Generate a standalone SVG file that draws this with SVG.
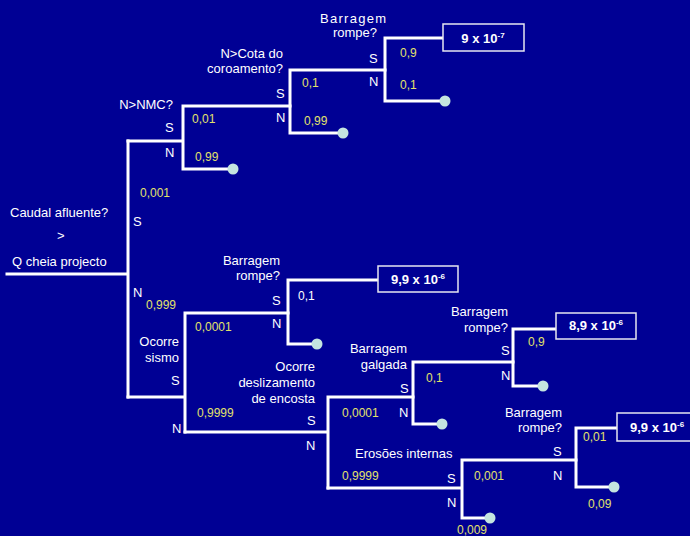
<svg xmlns="http://www.w3.org/2000/svg" width="690" height="536" viewBox="0 0 690 536">
<style>
.ln{stroke:#fff;stroke-width:3;fill:none;stroke-linecap:square}
.t{font-family:"Liberation Sans",Arial,sans-serif;font-size:13px;fill:#fff}
.e{text-anchor:end}
.p{font-family:"Liberation Sans",Arial,sans-serif;font-size:12px;fill:#e2e26a}
.pw{font-family:"Liberation Sans",Arial,sans-serif;font-size:12px;fill:#fff}
.box{fill:#000094;stroke:#e6e6f0;stroke-width:1.5}
.bt{font-family:"Liberation Sans",Arial,sans-serif;font-size:13px;font-weight:bold;fill:#fff}
.sup{font-size:8px}
.end{fill:#c4e4e0}
</style>
<rect width="690" height="536" fill="#000094"/>
<g id="connectors">
<path class="ln" d="M7,274 H128 M128,141 V397"/>
<path class="ln" d="M128,141 H183 M183,106 V169 M183,106 H290 M183,169 H233"/>
<path class="ln" d="M290,70 V133 M290,70 H385 M290,133 H343"/>
<path class="ln" d="M385,38 V101 M385,38 H443 M385,101 H445"/>
<path class="ln" d="M128,397 H185 M185,313 V432 M185,313 H288"/>
<path class="ln" d="M288,280 V344 M288,280 H378 M288,344 H317"/>
<path class="ln" d="M185,432 H328 M328,397 V488 M328,397 H413"/>
<path class="ln" d="M413,362 V424 M413,362 H513 M413,424 H442"/>
<path class="ln" d="M513,329 V386 M513,329 H556 M513,386 H543"/>
<path class="ln" d="M328,488 H462 M462,460 V518 M462,460 H576 M462,518 H490"/>
<path class="ln" d="M576,428 V487 M576,428 H617 M576,487 H614"/>
</g>
<g id="caudal">
<text class="t" x="10" y="217">Caudal afluente?</text>
<text class="t" x="57" y="240">&gt;</text>
<text class="t" x="12" y="266">Q cheia projecto</text>
<text class="t" x="133" y="226">S</text>
<text class="t" x="133" y="297">N</text>
<text class="p" x="140" y="197">0,001</text>
<text class="p" x="146" y="309">0,999</text>
</g>
<g id="nmc">
<text class="t e" x="173" y="109">N&gt;NMC?</text>
<text class="t" x="165" y="132">S</text>
<text class="t" x="165" y="157">N</text>
<text class="p" x="192" y="123">0,01</text>
<text class="p" x="195" y="161">0,99</text>
</g>
<g id="cota">
<text class="t e" x="283" y="58">N&gt;Cota do</text>
<text class="t e" x="283" y="73">coroamento?</text>
<text class="t" x="276" y="98">S</text>
<text class="t" x="276" y="122">N</text>
<text class="p" x="302" y="87">0,1</text>
<text class="p" x="304" y="125">0,99</text>
</g>
<g id="rompe1">
<text class="t" x="320" y="23" textLength="66">Barragem</text>
<text class="t e" x="377" y="37">rompe?</text>
<text class="t" x="369" y="63">S</text>
<text class="t" x="369" y="86">N</text>
<text class="p" x="400" y="57">0,9</text>
<text class="p" x="400" y="89">0,1</text>
</g>
<g id="result1">
<rect class="box" x="443" y="24" width="81" height="27"/>
<text class="bt" x="483" y="43" text-anchor="middle">9 x 10<tspan class="sup" dy="-5">-7</tspan></text>
</g>
<g id="sismo">
<text class="t e" x="179" y="346">Ocorre</text>
<text class="t e" x="179" y="362">sismo</text>
<text class="t" x="171" y="385">S</text>
<text class="t" x="172" y="433">N</text>
<text class="p" x="195" y="331">0,0001</text>
<text class="p" x="197" y="417">0,9999</text>
</g>
<g id="rompe2">
<text class="t e" x="280" y="265">Barragem</text>
<text class="t e" x="280" y="280">rompe?</text>
<text class="t" x="272" y="305">S</text>
<text class="t" x="272" y="328">N</text>
<text class="pw" x="298" y="300">0,1</text>
</g>
<g id="result2">
<rect class="box" x="378" y="266" width="80" height="26"/>
<text class="bt" x="418" y="284" text-anchor="middle">9,9 x 10<tspan class="sup" dy="-5">-6</tspan></text>
</g>
<g id="deslizamento">
<text class="t e" x="315" y="371">Ocorre</text>
<text class="t e" x="315" y="387">deslizamento</text>
<text class="t e" x="315" y="403">de encosta</text>
<text class="t" x="307" y="425">S</text>
<text class="t" x="306" y="450">N</text>
<text class="p" x="342" y="417">0,0001</text>
<text class="p" x="342" y="480">0,9999</text>
</g>
<g id="galgada">
<text class="t e" x="407" y="353">Barragem</text>
<text class="t e" x="407" y="369">galgada</text>
<text class="t" x="400" y="393">S</text>
<text class="t" x="399" y="417">N</text>
<text class="p" x="426" y="382">0,1</text>
</g>
<g id="rompe3">
<text class="t e" x="508" y="316">Barragem</text>
<text class="t e" x="508" y="332">rompe?</text>
<text class="t" x="501" y="355">S</text>
<text class="t" x="501" y="380">N</text>
<text class="p" x="528" y="346">0,9</text>
</g>
<g id="result3">
<rect class="box" x="556" y="313" width="80" height="26"/>
<text class="bt" x="596" y="330" text-anchor="middle">8,9 x 10<tspan class="sup" dy="-5">-6</tspan></text>
</g>
<g id="erosoes">
<text class="t" x="355" y="458">Erosões internas</text>
<text class="t" x="447" y="483">S</text>
<text class="t" x="447" y="507">N</text>
<text class="p" x="474" y="480">0,001</text>
<text class="p" x="457" y="534">0,009</text>
</g>
<g id="rompe4">
<text class="t e" x="562" y="417">Barragem</text>
<text class="t e" x="562" y="432">rompe?</text>
<text class="t" x="553" y="456">S</text>
<text class="t" x="553" y="480">N</text>
<text class="p" x="583" y="441">0,01</text>
<text class="p" x="588" y="508">0,09</text>
</g>
<g id="result4">
<rect class="box" x="617" y="413" width="80" height="28"/>
<text class="bt" x="630" y="432">9,9 x 10<tspan class="sup" dy="-5">-6</tspan></text>
</g>
<g id="terminals">
<circle class="end" cx="233" cy="169" r="5.5"/>
<circle class="end" cx="343" cy="133" r="5.5"/>
<circle class="end" cx="445" cy="101" r="5.5"/>
<circle class="end" cx="317" cy="344" r="5.5"/>
<circle class="end" cx="442" cy="424" r="5.5"/>
<circle class="end" cx="543" cy="386" r="5.5"/>
<circle class="end" cx="490" cy="518" r="5.5"/>
<circle class="end" cx="614" cy="487" r="5.5"/>
</g>
</svg>
